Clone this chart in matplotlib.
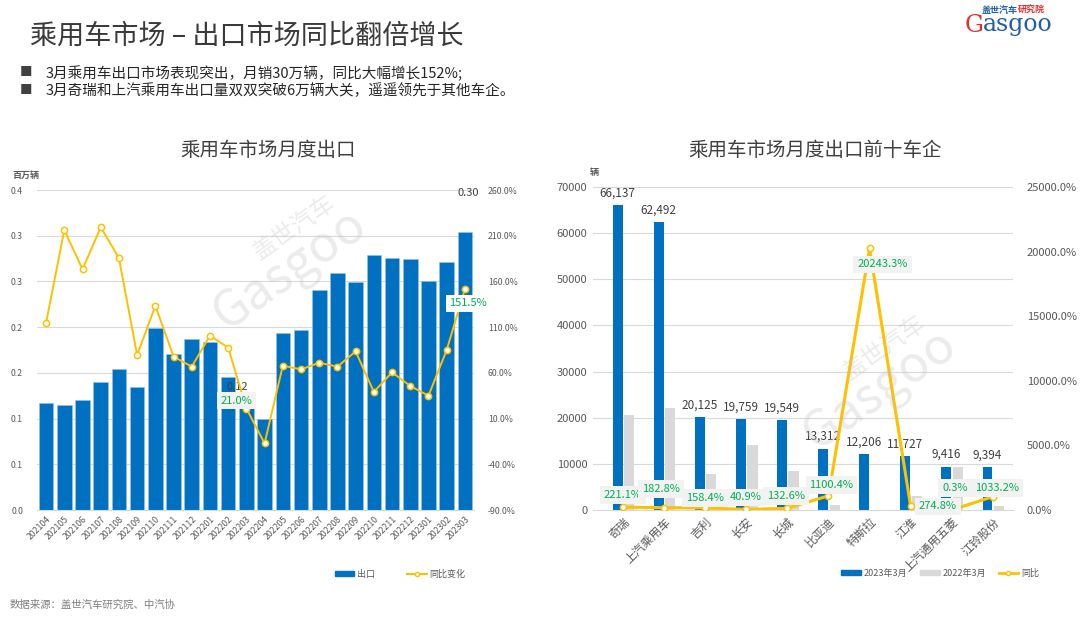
import matplotlib
matplotlib.use("Agg")
import matplotlib.pyplot as plt
from matplotlib.lines import Line2D
from matplotlib.patches import Patch

plt.rcParams['font.family'] = ['Noto Sans CJK SC', 'DejaVu Sans']

BLUE = '#0070C0'
GREY_BAR = '#D9D9D9'
YELLOW = '#FFC000'
GREEN = '#00B050'
TXT = '#595959'

# ---- data: monthly exports (million units) and YoY change (%)
months = ['202104', '202105', '202106', '202107', '202108', '202109', '202110', '202111',
          '202112', '202201', '202202', '202203', '202204', '202205', '202206', '202207',
          '202208', '202209', '202210', '202211', '202212', '202301', '202302', '202303']
exports = [0.117, 0.115, 0.120, 0.140, 0.154, 0.134, 0.199, 0.171, 0.187, 0.184, 0.145,
           0.120, 0.099, 0.194, 0.197, 0.241, 0.259, 0.249, 0.279, 0.276, 0.275, 0.250,
           0.271, 0.304]
yoy = [114.9, 216.2, 173.2, 219.2, 185.6, 79.5, 133.5, 77.7, 66.8, 100.7, 87.5, 21.0,
       -17.1, 67.9, 63.8, 71.1, 66.8, 83.5, 39.1, 60.6, 45.6, 35.0, 85.0, 151.5]

# ---- data: top 10 makers, March
makers = ['奇瑞', '上汽乘用车', '吉利', '长安', '长城', '比亚迪', '特斯拉', '江淮',
          '上汽通用五菱', '江铃股份']
sales_2023 = [66137, 62492, 20125, 19759, 19549, 13312, 12206, 11727, 9416, 9394]
sales_2022 = [20597, 22098, 7788, 14023, 8405, 1109, 60, 3129, 9388, 829]
maker_yoy = [221.1, 182.8, 158.4, 40.9, 132.6, 1100.4, 20243.3, 274.8, 0.3, 1033.2]

fig = plt.figure(figsize=(10.8, 6.19), dpi=100)
W, H = 1080, 619


def fx(px):
    return px / W


def fy(py):
    return 1 - py / H


# ---- header
fig.text(fx(30), fy(36), '乘用车市场 – 出口市场同比翻倍增长', fontsize=19.5, color='#3A3A3A',
         va='center', ha='left')
fig.text(fx(20), fy(73), '■', fontsize=9, color='#404040', va='center')
fig.text(fx(46), fy(73), '3月乘用车出口市场表现突出，月销30万辆，同比大幅增长152%;',
         fontsize=10.5, color='#262626', va='center')
fig.text(fx(20), fy(91), '■', fontsize=9, color='#404040', va='center')
fig.text(fx(46), fy(91), '3月奇瑞和上汽乘用车出口量双双突破6万辆大关，遥遥领先于其他车企。',
         fontsize=10.5, color='#262626', va='center')

# logo
fig.text(fx(1018), fy(10), '盖世汽车', fontsize=6.5, color='#1F5FA8', ha='right',
         va='center', fontweight='bold')
fig.text(fx(1018), fy(10), '研究院', fontsize=6.5, color='#E03030', ha='left',
         va='center', fontweight='bold')
fig.text(fx(984), fy(25), 'G', fontsize=17, color='#E03030', ha='right', va='center',
         family='DejaVu Serif')
fig.text(fx(983), fy(25), 'asgoo', fontsize=17, color='#1F5FA8', ha='left', va='center',
         family='DejaVu Serif')

fig.text(fx(268), fy(150), '乘用车市场月度出口', fontsize=14, color='#404040',
         ha='center', va='center')
fig.text(fx(815), fy(150), '乘用车市场月度出口前十车企', fontsize=14, color='#404040',
         ha='center', va='center')
fig.text(fx(10), fy(605), '数据来源：盖世汽车研究院、中汽协', fontsize=7.5, color='#7F7F7F',
         va='center')

# ---- left chart
ax1 = fig.add_axes([fx(37), fy(510), fx(474 - 37), (510 - 190) / H])
x = range(len(months))
ax1.bar(x, exports, width=0.8, color=BLUE, edgecolor='#9DC3E6', linewidth=0.4, zorder=2)
ax1.set_xlim(-0.5, len(months) - 0.5)
ax1.set_ylim(0, 0.35)
ax1.set_yticks([i * 0.05 for i in range(8)])
ax1.set_yticklabels(['%.1f' % round(v + 1e-9, 1) for v in [i * 0.05 for i in range(8)]])
ax1.grid(axis='y', color='#D9D9D9', linewidth=0.8, zorder=0)
ax1.set_xticks(list(x))
ax1.set_xticklabels(months, rotation=45, ha='right', rotation_mode='anchor', fontsize=6.3,
                    color=TXT)
ax1.tick_params(axis='y', labelsize=6.3, labelcolor=TXT, length=0, pad=10)
ax1.tick_params(axis='x', length=0, pad=3)
for s in ['top', 'right', 'left']:
    ax1.spines[s].set_visible(False)
ax1.spines['bottom'].set_color('#D9D9D9')
ax1.text(-0.055, 1.03, '百万辆', transform=ax1.transAxes, fontsize=6.5, color=TXT,
         ha='left', va='bottom', fontweight='bold')
ax1.annotate('%.2f' % exports[11], (11, exports[11]), xytext=(-9, 13),
             textcoords='offset pixels', ha='center', va='center', fontsize=8, color='#404040',
             zorder=6)
ax1.annotate('%.2f' % exports[-1], (len(months) - 1, exports[-1]), xytext=(3, 39),
             textcoords='offset pixels', ha='center', va='center', fontsize=8, color='#404040')

ax1b = ax1.twinx()
ax1b.plot(x, yoy, color=YELLOW, linewidth=1.4, marker='o', markersize=4.5,
          markerfacecolor='white', markeredgecolor=YELLOW, markeredgewidth=1.1, zorder=4)
ax1b.set_ylim(-90, 260)
ax1b.set_yticks(range(-90, 261, 50))
ax1b.set_yticklabels(['%.1f%%' % v for v in range(-90, 261, 50)])
ax1b.tick_params(axis='y', labelsize=6.3, labelcolor=TXT, length=0, pad=10)
for s in ['top', 'right', 'left', 'bottom']:
    ax1b.spines[s].set_visible(False)
box = dict(boxstyle='square,pad=0.3', facecolor='#F2F2F2', edgecolor='none')
ax1b.annotate('%.1f%%' % yoy[11], (11, yoy[11]), xytext=(-10, 8), textcoords='offset pixels',
              ha='center', va='center', fontsize=8, color=GREEN, bbox=box, zorder=7)
ax1b.annotate('%.1f%%' % yoy[-1], (len(months) - 1, yoy[-1]), xytext=(3, -14),
              textcoords='offset pixels', ha='center', va='center', fontsize=8, color=GREEN,
              bbox=dict(boxstyle='square,pad=0.3', facecolor='white', edgecolor='none'),
              zorder=7)

fig.legend(handles=[Patch(color=BLUE, label='出口'),
                    Line2D([], [], color=YELLOW, marker='o', markersize=3,
                           markerfacecolor='white', label='同比变化')],
           loc='center', bbox_to_anchor=(fx(400), fy(574)), ncol=2, frameon=False,
           fontsize=6.5, handlelength=2.2, handleheight=0.6, columnspacing=3.5,
           handletextpad=0.3, labelcolor=TXT)

# ---- right chart
ax2 = fig.add_axes([fx(593), fy(510), fx(1013 - 593), (510 - 187) / H])
xi = list(range(len(makers)))
ax2.bar([i - 0.13 for i in xi], sales_2023, width=0.24, color=BLUE, zorder=2)
ax2.bar([i + 0.15 for i in xi], sales_2022, width=0.25, color=GREY_BAR, zorder=2)
ax2.set_xlim(-0.73, 9.49)
ax2.set_ylim(0, 70000)
ax2.set_yticks(range(0, 70001, 10000))
ax2.grid(axis='y', color='#D9D9D9', linewidth=0.8, zorder=0)
ax2.tick_params(axis='y', labelsize=8, labelcolor=TXT, length=0, pad=4)
ax2.set_xticks(xi)
ax2.set_xticklabels(makers, rotation=45, ha='right', rotation_mode='anchor', fontsize=8.5,
                    color=TXT)
ax2.tick_params(axis='x', length=0, pad=4)
for s in ['top', 'right', 'left']:
    ax2.spines[s].set_visible(False)
ax2.spines['bottom'].set_color('#D9D9D9')
ax2.text(-0.007, 1.03, '辆', transform=ax2.transAxes, fontsize=6.5, color=TXT, ha='left',
         va='bottom', fontweight='bold')
for i, v in enumerate(sales_2023):
    ax2.annotate(format(v, ','), (i - 0.13, v), xytext=(0, 12), textcoords='offset pixels',
                 ha='center', va='center', fontsize=8.5, color='#404040')

ax2b = ax2.twinx()
ax2b.plot(xi, maker_yoy, color=YELLOW, linewidth=2.2, marker='o', markersize=4.5,
          markerfacecolor='white', markeredgecolor=YELLOW, markeredgewidth=1.1, zorder=4)
ax2b.set_ylim(0, 25000)
ax2b.set_yticks(range(0, 25001, 5000))
ax2b.set_yticklabels(['%.1f%%' % v for v in range(0, 25001, 5000)])
ax2b.tick_params(axis='y', labelsize=8, labelcolor=TXT, length=0, pad=10)
for s in ['top', 'right', 'left', 'bottom']:
    ax2b.spines[s].set_visible(False)
offsets = [(0, 12), (-3, 19), (0, 10), (-1, 12), (-1, 12), (3, 11), (13, -16), (27, 0),
           (3, 22), (4, 9)]
for i, v in enumerate(maker_yoy):
    ax2b.annotate('%.1f%%' % v, (i, v), xytext=offsets[i], textcoords='offset pixels',
                  ha='center', va='center', fontsize=8, color=GREEN, zorder=7,
                  bbox=dict(boxstyle='square,pad=0.35', facecolor='#F2F2F2', edgecolor='none'))

fig.legend(handles=[Patch(color=BLUE, label='2023年3月'),
                    Patch(color=GREY_BAR, label='2022年3月'),
                    Line2D([], [], color=YELLOW, linewidth=2, marker='o', markersize=3,
                           markerfacecolor='white', label='同比')],
           loc='center', bbox_to_anchor=(fx(940), fy(573)), ncol=3, frameon=False,
           fontsize=6.5, handlelength=2.2, handleheight=0.6, columnspacing=1.4,
           handletextpad=0.3, labelcolor=TXT)

# watermarks
for wx, wy in [(290, 270), (880, 390)]:
    fig.text(fx(wx), fy(wy), 'Gasgoo', fontsize=36, color='#BFBFBF', alpha=0.3,
             rotation=35, ha='center', va='center', zorder=10)
    fig.text(fx(wx + 5), fy(wy - 42), '盖世汽车', fontsize=17, color='#BFBFBF', alpha=0.3,
             rotation=35, ha='center', va='center', zorder=10)

fig.savefig('out.png', dpi=100)
